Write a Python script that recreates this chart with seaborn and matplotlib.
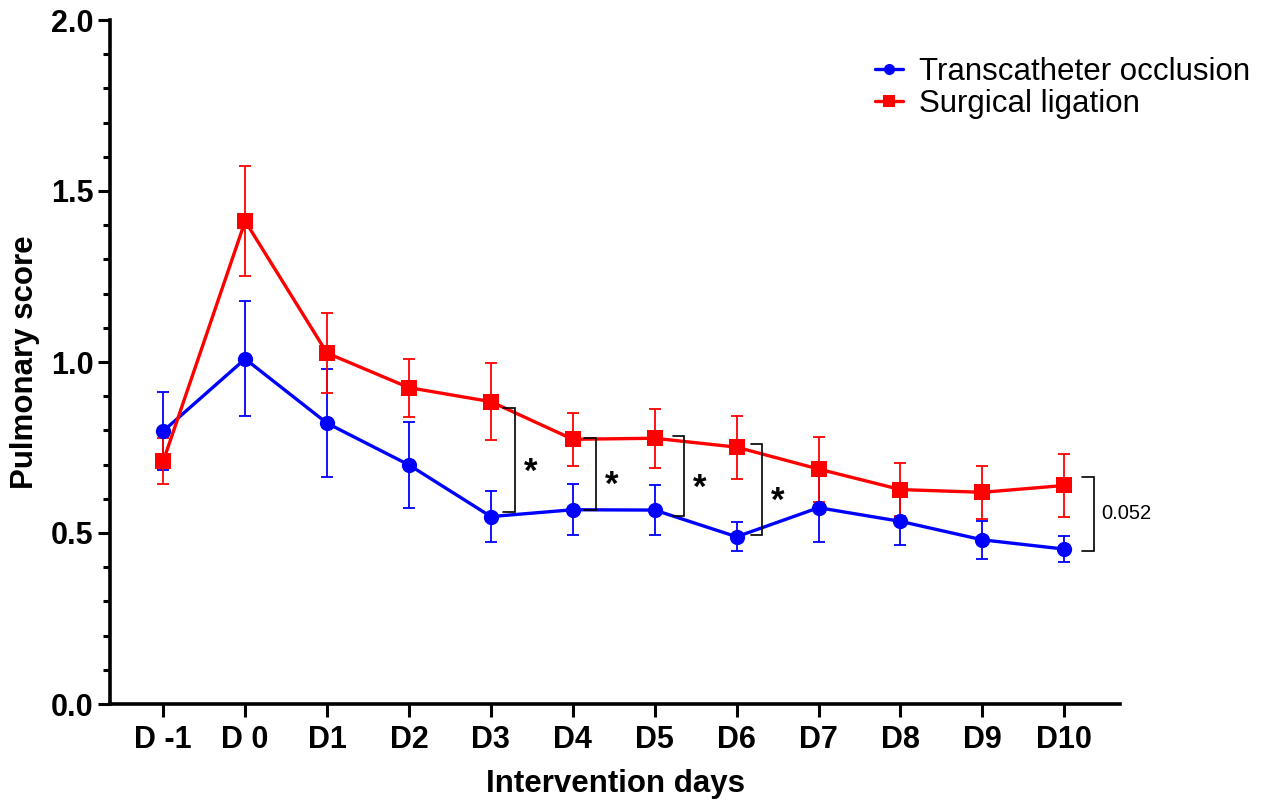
import numpy as np
import pandas as pd
import matplotlib
matplotlib.use("Agg")
import matplotlib.pyplot as plt
import seaborn as sns
from matplotlib.ticker import MultipleLocator

days = ["D -1", "D 0", "D1", "D2", "D3", "D4", "D5", "D6", "D7", "D8", "D9", "D10"]
groups = ["Transcatheter occlusion", "Surgical ligation"]
trans_mean = [0.798, 1.009, 0.821, 0.699, 0.548, 0.568, 0.567, 0.489, 0.574, 0.534, 0.480, 0.453]
trans_err = [0.114, 0.168, 0.158, 0.125, 0.074, 0.074, 0.074, 0.043, 0.100, 0.070, 0.056, 0.037]
surg_mean = [0.710, 1.412, 1.026, 0.925, 0.884, 0.774, 0.777, 0.751, 0.687, 0.627, 0.619, 0.639]
surg_err = [0.068, 0.161, 0.117, 0.085, 0.112, 0.078, 0.087, 0.092, 0.095, 0.077, 0.077, 0.091]

# significance annotations: (day index, top, bottom, label)
sig_days = [4, 5, 6, 7]
sig_top = [0.865, 0.778, 0.783, 0.760]
sig_bottom = [0.562, 0.568, 0.550, 0.495]
sig_labels = ["*", "*", "*", "*"]
p_day = 11
p_top = 0.664
p_bottom = 0.448
p_label = "0.052"

colors = {"Transcatheter occlusion": "#0000FF", "Surgical ligation": "#FF0000"}

pos = np.arange(len(days))
df = pd.DataFrame({
    "pos": np.concatenate([pos, pos]),
    "score": trans_mean + surg_mean,
    "err": trans_err + surg_err,
    "group": [groups[0]] * len(days) + [groups[1]] * len(days),
})

sns.set_style("ticks")
plt.rcParams["font.family"] = ["Liberation Sans", "DejaVu Sans"]
plt.rcParams["text.color"] = "black"
plt.rcParams["axes.labelcolor"] = "black"
plt.rcParams["xtick.color"] = "black"
plt.rcParams["ytick.color"] = "black"

fig = plt.figure(figsize=(12.65, 8), dpi=100)
ax = fig.add_axes([110 / 1265, 96 / 800, 1010 / 1265, 684 / 800])

for g in groups:
    sub = df[df.group == g]
    ax.errorbar(sub["pos"], sub["score"], yerr=sub["err"], fmt="none",
                ecolor=colors[g], elinewidth=1.3, capsize=4, capthick=1.3, zorder=2)

sns.lineplot(data=df, x="pos", y="score", hue="group", style="group",
             hue_order=groups, style_order=groups, palette=colors,
             markers={groups[0]: "o", groups[1]: "s"}, dashes=False,
             linewidth=2.4, markersize=11, markeredgewidth=0, ax=ax, zorder=3)

# brackets
def bracket(xi, top, bottom, ox=0.29, tick=0.14):
    xb = xi + ox
    ax.plot([xb - tick, xb, xb, xb - tick], [top, top, bottom, bottom],
            color="black", lw=1.2, zorder=4, solid_joinstyle="miter")

offsets = [0.29, 0.28, 0.36, 0.31]
for d, t, b, lab, o in zip(sig_days, sig_top, sig_bottom, sig_labels, offsets):
    bracket(d, t, b, ox=o)
    ax.text(d + o + 0.19, (t + b) / 2 - 0.035, lab, fontsize=25, fontweight="bold",
            ha="center", va="center", zorder=5)

bracket(p_day, p_top, p_bottom, ox=0.36, tick=0.15)
ax.text(p_day + 0.45, (p_top + p_bottom) / 2, p_label, fontsize=14.5,
        ha="left", va="center")

ax.set_xlim(-0.65, 11.68)
ax.set_ylim(0, 2.0)
ax.set_xticks(pos)
ax.set_xticklabels(days)
ax.yaxis.set_major_locator(MultipleLocator(0.5))
ax.yaxis.set_minor_locator(MultipleLocator(0.1))
ax.set_yticklabels([f"{v:.1f}" for v in ax.get_yticks()])

for lab in ax.get_xticklabels() + ax.get_yticklabels():
    lab.set_fontweight("bold")
    lab.set_fontsize(22)

ax.tick_params(axis="both", which="major", length=9, width=2.2, direction="out", pad=3)
ax.tick_params(axis="y", which="minor", length=5, width=2.2, direction="out")
ax.tick_params(axis="x", which="major", pad=6)

ax.set_xlabel("Intervention days", fontsize=22.5, fontweight="bold", labelpad=10)
ax.set_ylabel("Pulmonary score", fontsize=22.5, fontweight="bold", labelpad=8)

sns.despine(ax=ax)
for sp in ["left", "bottom"]:
    ax.spines[sp].set_linewidth(2.6)
    ax.spines[sp].set_color("black")

handles, labels = ax.get_legend_handles_labels()
for h in handles:
    h.set_markersize(8)
    h.set_linewidth(2.4)
leg = ax.legend(handles, labels, loc="upper left",
                bbox_to_anchor=(875 / 1265, 1 - 57 / 800), bbox_transform=fig.transFigure,
                frameon=False, fontsize=22.5, handlelength=0.9, handletextpad=0.5,
                borderpad=0, borderaxespad=0, labelspacing=0.05)

fig.savefig("out.png", dpi=100)
